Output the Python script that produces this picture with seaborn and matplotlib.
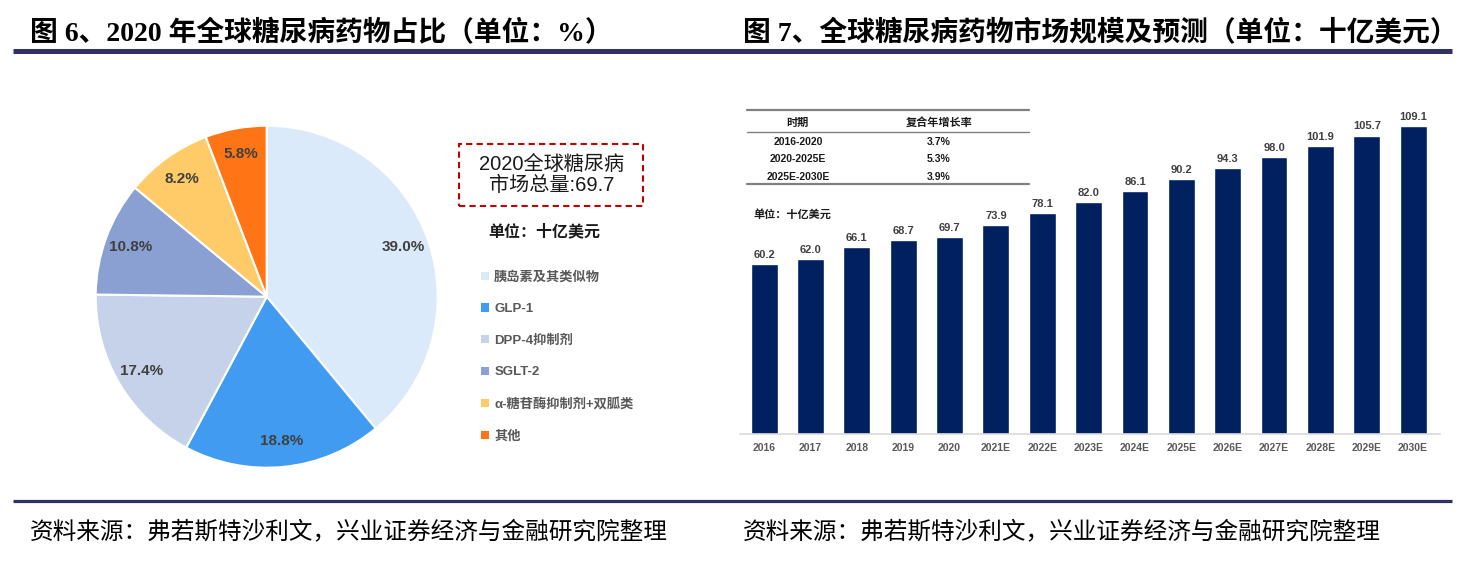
import matplotlib
matplotlib.use('Agg')
import matplotlib.pyplot as plt
import seaborn as sns
import pandas as pd
from matplotlib.patches import Rectangle, Patch
from matplotlib.lines import Line2D

# ---------------- data ----------------
pie_labels = ['胰岛素及其类似物', 'GLP-1', 'DPP-4抑制剂', 'SGLT-2',
              'α-糖苷酶抑制剂+双胍类', '其他']
pie_shares = [39.0, 18.8, 17.4, 10.8, 8.2, 5.8]
pie_colors = ['#DAEAFA', '#419CF1', '#C5D2E9', '#8AA0D2', '#FFCB69', '#FF7515']

years = ['2016', '2017', '2018', '2019', '2020', '2021E', '2022E', '2023E',
         '2024E', '2025E', '2026E', '2027E', '2028E', '2029E', '2030E']
market = [60.2, 62.0, 66.1, 68.7, 69.7, 73.9, 78.1, 82.0, 86.1, 90.2,
          94.3, 98.0, 101.9, 105.7, 109.1]

cagr_header = ['时期', '复合年增长率']
cagr_periods = ['2016-2020', '2020-2025E', '2025E-2030E']
cagr_values = ['3.7%', '5.3%', '3.9%']

title_left = '图 6、2020 年全球糖尿病药物占比（单位：%）'
title_right = '图 7、全球糖尿病药物市场规模及预测（单位：十亿美元）'
source_text = '资料来源：弗若斯特沙利文，兴业证券经济与金融研究院整理'
box_text = '2020全球糖尿病\n市场总量:69.7'
unit_text = '单位：十亿美元'

# ---------------- style ----------------
sns.set_theme(style='white')
SANS = ['Liberation Sans', 'Noto Sans CJK SC']
SERIF = ['Liberation Serif', 'Noto Sans CJK SC']
plt.rcParams['font.family'] = SANS
plt.rcParams['axes.unicode_minus'] = False

W, H = 1465, 567
fig = plt.figure(figsize=(W / 100, H / 100), dpi=100)
fig.patch.set_facecolor('white')


def fx(x):
    return x / W


def fy(y):
    return 1 - y / H


# ---------------- titles, rules, sources ----------------
fig.text(fx(30), fy(34), title_left, fontsize=20, fontweight='bold',
         family=SERIF, ha='left', va='center', color='black')
fig.text(fx(743), fy(34), title_right, fontsize=20, fontweight='bold',
         family=SERIF, ha='left', va='center', color='black')
rule_color = '#2F3167'
fig.add_artist(Line2D([fx(13), fx(1452)], [fy(50.5)] * 2, transform=fig.transFigure,
                      color=rule_color, lw=3.6, solid_capstyle='butt'))
fig.add_artist(Line2D([fx(13), fx(1452)], [fy(501)] * 2, transform=fig.transFigure,
                      color=rule_color, lw=2.3, solid_capstyle='butt'))
fig.text(fx(30), fy(532), source_text, fontsize=17, family=SERIF,
         ha='left', va='center', color='black')
fig.text(fx(743), fy(532), source_text, fontsize=17, family=SERIF,
         ha='left', va='center', color='black')

# ---------------- pie ----------------
cx, cy, r = 266.7, 296.7, 171
axp = fig.add_axes([fx(cx - r), fy(cy + r), 2 * r / W, 2 * r / H])
wedges, texts, autotexts = axp.pie(
    pie_shares, colors=pie_colors, startangle=90, counterclock=False,
    autopct=lambda p: f'{p:.1f}%', pctdistance=0.85,
    wedgeprops=dict(edgecolor='white', linewidth=1.5),
    textprops=dict(fontsize=11, fontweight='bold', color='#404040'))
axp.set_xlim(-1, 1)
axp.set_ylim(-1, 1)
axp.set_aspect('equal')

# dashed total box
bx0, by0, bx1, by1 = 459.3, 144, 643.3, 206
fig.add_artist(Rectangle((fx(bx0), fy(by1)), (bx1 - bx0) / W, (by1 - by0) / H,
                         transform=fig.transFigure, fill=False,
                         edgecolor='#C00000', lw=1.5, linestyle=(0, (3, 2))))
fig.text(fx((bx0 + bx1) / 2), fy((by0 + by1) / 2), box_text, fontsize=14.5,
         ha='center', va='center', linespacing=1.1, color='#1A1A1A')
fig.text(fx(488), fy(231), unit_text, fontsize=11.5, fontweight='bold',
         ha='left', va='center', color='#1A1A1A')

handles = [Patch(facecolor=c, edgecolor='none') for c in pie_colors]
leg = fig.legend(handles, pie_labels, loc='upper left',
                 bbox_to_anchor=(fx(481), fy(271)), frameon=False,
                 borderpad=0, borderaxespad=0, handlelength=0.6,
                 handleheight=0.6, handletextpad=0.4, labelspacing=1.48,
                 prop=dict(size=9.5, weight='bold', family=SANS))
for t in leg.get_texts():
    t.set_color('#595959')

# ---------------- bars ----------------
bl, br, bb, bt = 740, 1440, 434, 100
axb = fig.add_axes([fx(bl), fy(bb), (br - bl) / W, (bb - bt) / H])
df = pd.DataFrame({'year': years, 'value': market})
sns.barplot(data=df, x='year', y='value', color='#002060', saturation=1,
            width=0.58, ax=axb)
axb.set_xlim(-0.52, 14.58)
axb.set_ylim(0, (bb - bt) / 2.824)
axb.set_xlabel('')
axb.set_ylabel('')
axb.set_yticks([])
for s in ['left', 'top', 'right']:
    axb.spines[s].set_visible(False)
axb.spines['bottom'].set_color('#D9D9D9')
axb.spines['bottom'].set_linewidth(1.2)
axb.tick_params(axis='x', length=0, pad=6.5, labelsize=7.5, labelcolor='#595959')
for lab in axb.get_xticklabels():
    lab.set_fontweight('bold')
for c in axb.containers:
    axb.bar_label(c, fmt='%.1f', padding=3, fontsize=8, fontweight='bold',
                  color='#404040')

# CAGR table
tx0, tx1 = 747, 1029
line_c = '#808080'
for yy, lw in [(110, 1.6), (131.7, 1.0), (184.3, 1.6)]:
    fig.add_artist(Line2D([fx(tx0), fx(tx1)], [fy(yy)] * 2,
                          transform=fig.transFigure, color=line_c, lw=lw))
fig.text(fx(797), fy(122.7), cagr_header[0], fontsize=8, fontweight='bold',
         ha='center', va='center', color='#1A1A1A')
fig.text(fx(939), fy(122.7), cagr_header[1], fontsize=8, fontweight='bold',
         ha='center', va='center', color='#1A1A1A')
for yy, per, val in zip([141.7, 159.3, 176.7], cagr_periods, cagr_values):
    fig.text(fx(798), fy(yy), per, fontsize=7.5, fontweight='bold',
             ha='center', va='center', color='#1A1A1A')
    fig.text(fx(939), fy(yy), val, fontsize=7.5, fontweight='bold',
             ha='center', va='center', color='#1A1A1A')
fig.text(fx(753), fy(214), unit_text, fontsize=8, fontweight='bold',
         ha='left', va='center', color='#1A1A1A')

fig.savefig('out.png', dpi=100, facecolor='white')
